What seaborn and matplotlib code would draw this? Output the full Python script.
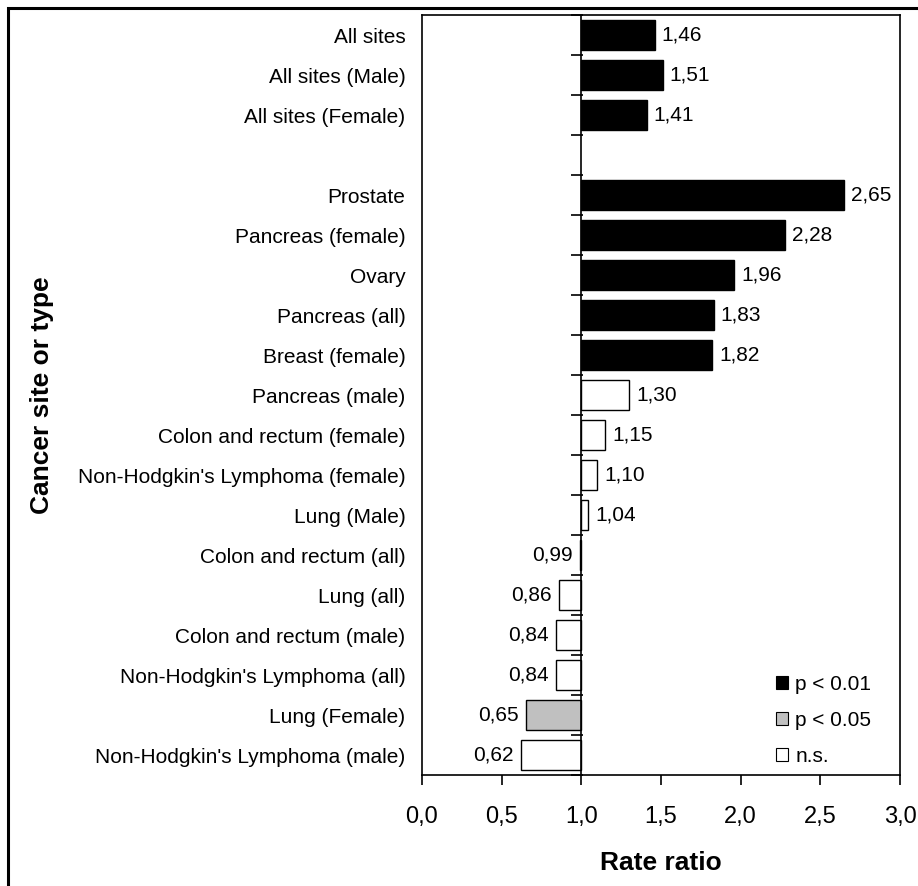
import matplotlib
matplotlib.use("Agg")
import matplotlib.pyplot as plt
import seaborn as sns
import pandas as pd
import numpy as np
from matplotlib.patches import Patch, Rectangle
from matplotlib.ticker import FuncFormatter, FixedLocator

# ---------------- data ----------------
categories = [
    "All sites", "All sites (Male)", "All sites (Female)", " ",
    "Prostate", "Pancreas (female)", "Ovary", "Pancreas (all)", "Breast (female)",
    "Pancreas (male)", "Colon and rectum (female)", "Non-Hodgkin's Lymphoma (female)",
    "Lung (Male)", "Colon and rectum (all)", "Lung (all)", "Colon and rectum (male)",
    "Non-Hodgkin's Lymphoma (all)", "Lung (Female)", "Non-Hodgkin's Lymphoma (male)",
]
rate_ratio = [1.46, 1.51, 1.41, None,
              2.65, 2.28, 1.96, 1.83, 1.82,
              1.30, 1.15, 1.10, 1.04, 0.99, 0.86, 0.84, 0.84, 0.65, 0.62]
significance = ["p < 0.01", "p < 0.01", "p < 0.01", None,
                "p < 0.01", "p < 0.01", "p < 0.01", "p < 0.01", "p < 0.01",
                "n.s.", "n.s.", "n.s.", "n.s.", "p < 0.01", "n.s.", "n.s.", "n.s.",
                "p < 0.05", "n.s."]
sig_levels = ["p < 0.01", "p < 0.05", "n.s."]
sig_colors = ["#000000", "#c0c0c0", "#ffffff"]
x_ticks = [0.0, 0.5, 1.0, 1.5, 2.0, 2.5, 3.0]
baseline = 1.0

# ---------------- style ----------------
sns.set_theme(style="white")
plt.rcParams["font.family"] = ["Liberation Sans", "DejaVu Sans"]
plt.rcParams["text.color"] = "black"

df = pd.DataFrame({"category": categories, "ratio": rate_ratio, "sig": significance})
df = df.dropna()
df["delta"] = df["ratio"] - baseline

fig = plt.figure(figsize=(9.18, 8.86), dpi=100)
ax = fig.add_axes([422 / 918, 1 - 775 / 886, 478 / 918, 760 / 886])

sns.barplot(data=df, x="delta", y="category", hue="sig", order=categories,
            hue_order=sig_levels, palette=dict(zip(sig_levels, sig_colors)),
            orient="h", dodge=False, width=0.75, edgecolor="black", linewidth=1.0,
            legend=False, ax=ax, saturation=1)

ax.set_xlim(x_ticks[0] - baseline, x_ticks[-1] - baseline)
ax.set_ylim(len(categories) - 0.5, -0.5)

# frame
for s in ax.spines.values():
    s.set_visible(True)
    s.set_color("black")
    s.set_linewidth(1.2)

# x axis
ax.xaxis.set_major_locator(FixedLocator([t - baseline for t in x_ticks]))
ax.xaxis.set_major_formatter(FuncFormatter(lambda v, p: f"{v + baseline:.1f}".replace(".", ",")))
ax.tick_params(axis="x", bottom=True, direction="out", length=7.2, width=1.2,
               color="black", pad=15, labelsize=17, labelcolor="black")
ax.set_xlabel("Rate ratio", fontsize=19, fontweight="bold", labelpad=17, color="black")

# y axis labels
ax.tick_params(axis="y", left=False, length=0, pad=12, labelcolor="black")
ax.set_yticks(range(len(categories)))
ax.set_yticklabels(categories, fontsize=15)
ax.set_ylabel("Cancer site or type", fontsize=19, fontweight="bold", labelpad=17, color="black")

# baseline line with row-boundary ticks
ax.axvline(0, color="black", lw=1.2, zorder=3)
bounds = np.arange(len(categories) + 1) - 0.5
ax.hlines(bounds, -0.0625, 0.0125, color="black", lw=1.2, zorder=3, clip_on=False)

# value labels
for i, cat in enumerate(categories):
    row = df[df["category"] == cat]
    if row.empty:
        continue
    v = float(row["ratio"].iloc[0])
    d = v - baseline
    txt = f"{v:.2f}".replace(".", ",")
    if v >= baseline:
        ax.text(d + 0.045, i, txt, va="center", ha="left", fontsize=15, color="black")
    else:
        ax.text(d - 0.045, i, txt, va="center", ha="right", fontsize=15, color="black")

# legend
handles = [Patch(facecolor=c, edgecolor="black", linewidth=0.8, label=l)
           for l, c in zip(sig_levels, sig_colors)]
ax.legend(handles=handles, loc="upper left", bbox_to_anchor=(0.7406, 0.132),
          frameon=False, fontsize=15, handlelength=0.58, handleheight=0.58,
          handletextpad=0.34, labelspacing=0.82, borderpad=0, borderaxespad=0,
          labelcolor="black")

# figure border (left and top visible)
fig.patches.append(Rectangle((8 / 918, -0.1), 1.2, 1 - 8 / 886 + 0.1,
                             transform=fig.transFigure, fill=False,
                             edgecolor="black", linewidth=2.2))

fig.savefig("out.png", dpi=100)
